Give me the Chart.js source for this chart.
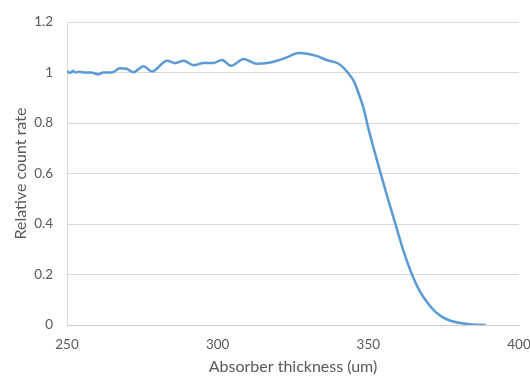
<!DOCTYPE html>
<html>
<head>
<meta charset="utf-8">
<script src="https://cdn.jsdelivr.net/npm/chart.js@4"></script>
<style>
  html, body { margin: 0; padding: 0; background: #fff; }
  #wrap { width: 530px; height: 376px; }
</style>
</head>
<body>
<div id="wrap"><canvas id="countChart" width="530" height="376"></canvas></div>
<script>
// absorber thickness (um) and relative count rate
const thickness = [250, 251, 252, 253, 254, 256, 258, 260.4, 262, 264.8, 267.6, 269.8, 272, 275.4,
    278.2, 283.2, 285.9, 288.7, 292, 295.3, 298.6, 301.4, 304.5, 308.6, 313, 316.5, 319.7, 322.5,
    326.9, 329.7, 333, 336.4, 339.7, 341.9, 343.5, 345.2, 347, 348.5, 350, 352, 354.1, 356.5, 359,
    361.5, 364.5, 367, 369.5, 372, 374.5, 377, 380, 383, 386, 389];
const countRate = [1.005, 0.999, 1.006, 1.0, 1.003, 1.0, 1.0, 0.993, 1.0, 1.0, 1.017, 1.015, 1.001, 1.025,
    1.004, 1.047, 1.037, 1.047, 1.029, 1.038, 1.038, 1.05, 1.027, 1.054, 1.035, 1.038, 1.047, 1.058,
    1.078, 1.075, 1.065, 1.049, 1.038, 1.018, 0.995, 0.966, 0.91, 0.855, 0.78, 0.69, 0.6, 0.5, 0.4,
    0.3, 0.2, 0.135, 0.09, 0.055, 0.032, 0.018, 0.009, 0.004, 0.001, 0];

const xTicks = ['250', '300', '350', '400'];
const yTicks = ['0', '0.2', '0.4', '0.6', '0.8', '1', '1.2'];

const points = thickness.map((t, i) => ({ x: t, y: countRate[i] }));
const textColor = '#595959';
const fontFamily = 'Lato, "Open Sans", sans-serif';

const ctx = document.getElementById('countChart').getContext('2d');
new Chart(ctx, {
    type: 'line',
    data: {
        datasets: [{
            data: points,
            borderColor: '#5b9bd5',
            borderWidth: 2.5,
            pointRadius: 0,
            fill: false,
            cubicInterpolationMode: 'monotone'
        }]
    },
    options: {
        responsive: false,
        animation: false,
        layout: { padding: { top: 21, left: 0, right: 0, bottom: 0 } },
        plugins: { legend: { display: false }, tooltip: { enabled: false } },
        scales: {
            x: {
                type: 'linear',
                min: 250,
                max: 400,
                afterFit: (s) => { s.height = 51; s.paddingLeft = 0; s.paddingRight = 11; },
                grid: { display: false, drawTicks: false },
                border: { color: '#d0d0d0', width: 1 },
                ticks: {
                    stepSize: 50,
                    padding: 12,
                    color: textColor,
                    font: { family: fontFamily, size: 13.5 },
                    callback: (v) => xTicks[Math.round((v - 250) / 50)]
                },
                title: {
                    display: true,
                    text: 'Absorber thickness (um)',
                    color: textColor,
                    font: { family: fontFamily, size: 16 },
                    padding: 0
                }
            },
            y: {
                min: 0,
                max: 1.2,
                afterFit: (s) => { s.width = 67; },
                grid: { color: '#d9d9d9', drawTicks: false },
                border: { color: '#d9d9d9', width: 1 },
                ticks: {
                    stepSize: 0.2,
                    padding: 14,
                    color: textColor,
                    font: { family: fontFamily, size: 13.5 },
                    callback: (v) => yTicks[Math.round(v / 0.2)]
                },
                title: {
                    display: true,
                    text: 'Relative count rate',
                    color: textColor,
                    font: { family: fontFamily, size: 16 },
                    padding: { top: 11, bottom: 0 }
                }
            }
        }
    }
});
</script>
</body>
</html>
